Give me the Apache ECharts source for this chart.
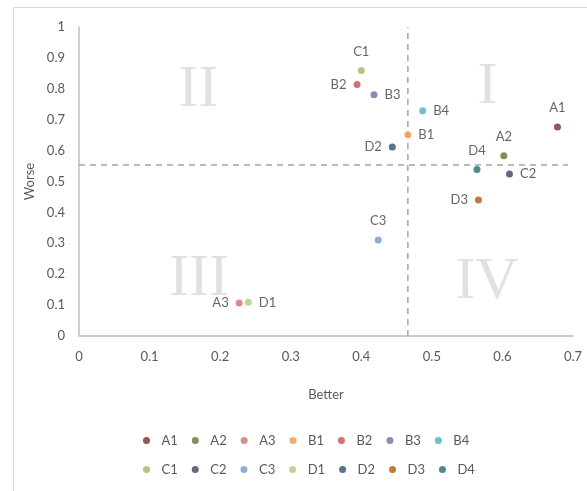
<!DOCTYPE html>
<html><head><meta charset="utf-8">
<script src="https://cdn.jsdelivr.net/npm/echarts@6/dist/echarts.min.js"></script>
<style>html,body{margin:0;padding:0;background:#fff}#c{width:587px;height:491px}</style>
</head><body><div id="c"></div>
<script>
var names = ['A1','A2','A3','B1','B2','B3','B4','C1','C2','C3','D1','D2','D3','D4'];
var betterVals = [0.678,0.602,0.227,0.466,0.394,0.418,0.487,0.400,0.610,0.424,0.240,0.444,0.566,0.564];
var worseVals  = [0.676,0.583,0.107,0.651,0.814,0.781,0.729,0.859,0.524,0.311,0.109,0.612,0.440,0.539];
var meanBetter = 0.466;
var meanWorse = 0.553;
var quadrantNames = ['I','II','III','IV'];
var quadrantX = [0.579,0.169,0.170,0.578];
var quadrantY = [0.806,0.796,0.184,0.175];
var xTicks = [0,0.1,0.2,0.3,0.4,0.5,0.6,0.7];
var yTicks = [0,0.1,0.2,0.3,0.4,0.5,0.6,0.7,0.8,0.9,1];

var colors = ['#772C2A','#5F7530','#CD7371','#F79646','#C0504D','#8064A2','#4BACC6','#9BBB59','#4D3B62','#729ACA','#AFC97A','#2C4D75','#B65708','#276A7C'];
var labelPos = ['top','top','left','right','left','right','right','top','right','top','right','left','left','top'];
var font = 'Lato, "Open Sans", sans-serif';

var series = [];
series.push({
  type:'scatter', silent:true, symbolSize:0, z:1,
  data: quadrantNames.map(function(n,i){return {value:[quadrantX[i],quadrantY[i]], name:n};}),
  label:{show:true, position:'inside', formatter:'{b}', color:'#d9d9d9', fontSize:60, fontFamily:'"Liberation Serif", serif'}
});
series.push({
  type:'line', silent:true, symbol:'none', z:2,
  data:[[meanBetter,0],[meanBetter,1]],
  lineStyle:{color:'#a6a6a6', width:1.5, type:[6,5]}
});
series.push({
  type:'line', silent:true, symbol:'none', z:2,
  data:[[0,meanWorse],[0.693,meanWorse]],
  lineStyle:{color:'#a6a6a6', width:1.5, type:[6,5]}
});
names.forEach(function(n,i){
  series.push({
    name:n, type:'scatter', symbol:'circle', symbolSize:7, z:5,
    itemStyle:{color:colors[i]},
    data:[[betterVals[i], worseVals[i]]],
    label:{show:true, formatter:n, position:labelPos[i], distance:labelPos[i]==='top'?9:7, color:'#404040', fontSize:13, fontFamily:font}
  });
});

var chart = echarts.init(document.getElementById('c'), null, {renderer:'canvas'});
var legendCommon = {orient:'horizontal', itemWidth:20, itemHeight:7, itemGap:14, icon:'circle',
  textStyle:{color:'#595959', fontSize:13, fontFamily:font}, selectedMode:false};
chart.setOption({
  animation:false,
  color: colors,
  graphic:[{type:'rect', shape:{x:13.5,y:7.5,width:600,height:600}, style:{fill:'none', stroke:'#d9d9d9', lineWidth:1}, silent:true, z:-1}],
  grid:{left:79, right:14, top:27, bottom:155},
  xAxis:{type:'value', min:0, max:0.7, interval:0.1, name:'Better', nameLocation:'middle', nameGap:52,
    nameTextStyle:{color:'#595959', fontSize:13, fontFamily:font},
    axisLine:{show:true, onZero:false, lineStyle:{color:'#bfbfbf', width:1.5}}, axisTick:{show:false}, splitLine:{show:false},
    axisLabel:{color:'#595959', fontSize:13, fontFamily:font, margin:14, formatter:function(v){return xTicks.indexOf(Math.round(v*10)/10)>=0? String(Math.round(v*10)/10):'';}}},
  yAxis:{type:'value', min:0, max:1, interval:0.1, name:'Worse', nameLocation:'middle', nameGap:29, nameRotate:90,
    nameTextStyle:{color:'#595959', fontSize:13, fontFamily:font},
    axisLine:{show:true, lineStyle:{color:'#bfbfbf', width:1.5}}, axisTick:{show:false}, splitLine:{show:false},
    axisLabel:{color:'#595959', fontSize:13, fontFamily:font, margin:14, formatter:function(v){return yTicks.indexOf(Math.round(v*10)/10)>=0? String(Math.round(v*10)/10):'';}}},
  legend:[
    Object.assign({left:138, top:429, data:names.slice(0,7)}, legendCommon),
    Object.assign({left:138, top:458, data:names.slice(7)}, legendCommon)
  ],
  series:series
});
</script></body></html>
